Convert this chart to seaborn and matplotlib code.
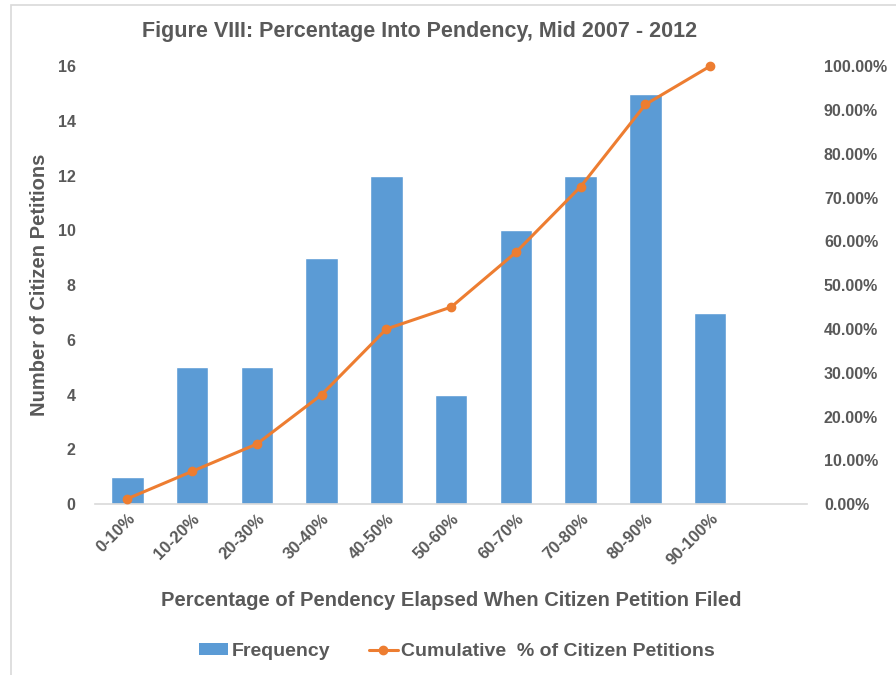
import numpy as np
import matplotlib
matplotlib.use("Agg")
import matplotlib.pyplot as plt
import seaborn as sns
from matplotlib.patches import Rectangle, Patch
from matplotlib.lines import Line2D
from matplotlib.ticker import FuncFormatter

categories = ['0-10%', '10-20%', '20-30%', '30-40%', '40-50%',
              '50-60%', '60-70%', '70-80%', '80-90%', '90-100%']
frequency = [1, 5, 5, 9, 12, 4, 10, 12, 15, 7]
cumulative = [0.0125, 0.075, 0.1375, 0.25, 0.40, 0.45, 0.575, 0.725, 0.9125, 1.0]

bar_color = '#5B9BD5'
line_color = '#ED7D31'
text_color = '#595959'

sns.set_style('white')
plt.rcParams['font.family'] = ['Liberation Sans', 'DejaVu Sans']
plt.rcParams['font.weight'] = 'bold'

fig = plt.figure(figsize=(8.96, 6.75), dpi=100)
ax = fig.add_axes([0.106, 0.253, 0.795, 0.649])

sns.barplot(x=categories, y=frequency, color=bar_color, width=0.5,
            saturation=1, ax=ax)
ax.set_xlim(-0.5, 10.5)
ax.set_ylim(0, 16)
ax.set_yticks(range(0, 17, 2))

ax2 = ax.twinx()
ax2.plot(np.arange(len(categories)), cumulative, color=line_color, lw=2.2,
         marker='o', ms=6, clip_on=False)
ax2.set_ylim(0, 1)
ax2.set_yticks(np.arange(0, 1.01, 0.1))
ax2.yaxis.set_major_formatter(FuncFormatter(lambda v, p: f'{v*100:.2f}%'))

for a in (ax, ax2):
    for s in a.spines.values():
        s.set_visible(False)
    a.tick_params(length=0, colors=text_color, labelsize=11.5)
ax.spines['bottom'].set_visible(True)
ax.spines['bottom'].set_color('#D9D9D9')
ax.spines['bottom'].set_linewidth(1.2)
ax.tick_params(axis='y', pad=14)
ax2.tick_params(axis='y', pad=12)
ax.tick_params(axis='x', pad=5)

ax.set_xticks(np.arange(len(categories)))
ax.set_xticklabels(categories, rotation=45, ha='right', rotation_mode='anchor',
                   fontsize=12, color=text_color)

ax.set_ylabel('Number of Citizen Petitions', fontsize=14.5, color=text_color,
              fontweight='bold', labelpad=6)
ax.set_xlabel('Percentage of Pendency Elapsed When Citizen Petition Filed',
              fontsize=14.5, color=text_color, fontweight='bold', labelpad=16)

fig.text(0.468, 0.953, 'Figure VIII: Percentage Into Pendency, Mid 2007 - 2012',
         ha='center', va='center', fontsize=15.5, color=text_color,
         fontweight='bold', family=['Liberation Sans Narrow', 'Liberation Sans', 'DejaVu Sans'])

handles = [Patch(facecolor=bar_color, edgecolor='none'),
           Line2D([], [], color=line_color, lw=2.2, marker='o', ms=6)]
fig.legend(handles, ['Frequency', 'Cumulative  % of Citizen Petitions'],
           loc='center', bbox_to_anchor=(0.51, 0.035), ncol=2, frameon=False,
           fontsize=14, labelcolor=text_color, handlelength=1.5,
           handleheight=0.55, handletextpad=0.15, columnspacing=2.0)

fig.patches.append(Rectangle((0.012, -0.1), 1.2, 1.092, transform=fig.transFigure,
                             fill=False, edgecolor='#D9D9D9', lw=1.2))

fig.savefig('out.png', dpi=100)
